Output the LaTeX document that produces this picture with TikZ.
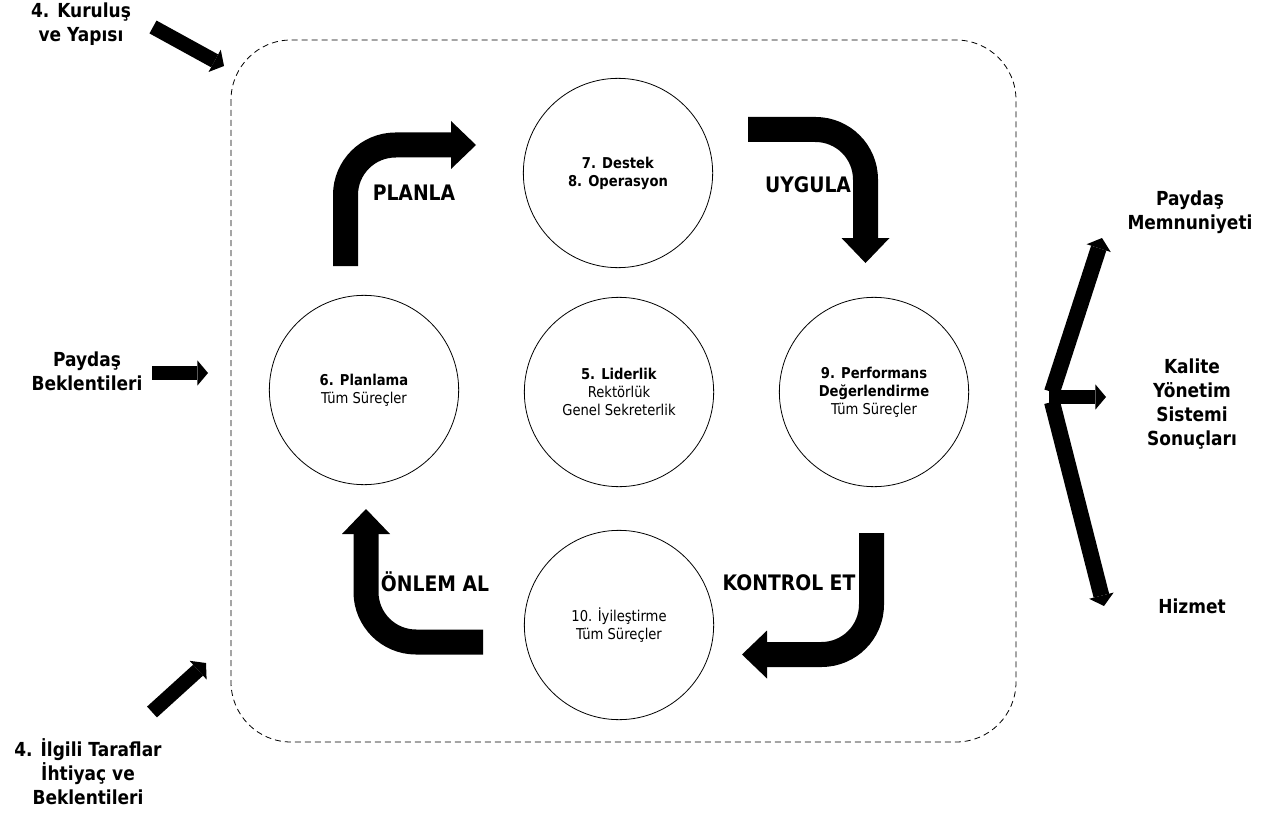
\documentclass[tikz,border=0pt]{standalone}
\usepackage{fontspec}
\setmainfont[FakeStretch=0.88]{DejaVu Sans}
\usetikzlibrary{arrows.meta}

\tikzset{
  stage/.style={draw, circle, line width=0.6pt, minimum size=142pt, inner sep=0pt,
    align=center, font=\fontsize{11.2}{13.5}\selectfont},
  cyclelabel/.style={font=\bfseries\fontsize{16}{18}\selectfont},
  sidelabel/.style={align=center, font=\bfseries\fontsize{14.5}{18}\selectfont},
  bigarrow/.style={line width=18.75pt, rounded corners=37.5pt,
    -{Triangle[length=18.75pt, width=36pt, line width=0pt]}},
  sidearrow/.style={line width=11pt,
    -{Triangle[length=8pt, width=19pt, line width=0pt]}},
  outarrow/.style={line width=12pt,
    -{Triangle[length=8pt, width=19pt, line width=0pt]}}
}

\begin{document}
\begin{tikzpicture}[x=0.75pt, y=-0.75pt]
  \useasboundingbox (0,0) rectangle (1274,820);

  % dashed frame
  \draw[line width=0.6pt, dash pattern=on 4.5pt off 3pt, rounded corners=45pt]
    (231,40) rectangle (1016,742);

  % circles
  \node[stage] (destek) at (618,173) {\textbf{7. Destek}\\\textbf{8. Operasyon}};
  \node[stage] (planlama) at (364,390) {\textbf{6. Planlama}\\Tüm Süreçler};
  \node[stage] (liderlik) at (619,392) {\textbf{5. Liderlik}\\Rektörlük\\Genel Sekreterlik};
  \node[stage] (performans) at (874,392) {\textbf{9. Performans}\\\textbf{Değerlendirme}\\Tüm Süreçler};
  \node[stage] (iyilestirme) at (619,625) {10. İyileştirme\\Tüm Süreçler};

  % cycle arrows
  \coordinate (planS) at (345.5,266);
  \coordinate (planE) at (476,145);
  \coordinate (uygS) at (748,129.5);
  \coordinate (uygE) at (865.5,263);
  \coordinate (konS) at (871.5,533);
  \coordinate (konE) at (742,654.5);
  \coordinate (onlS) at (483,642);
  \coordinate (onlE) at (366,509);
  \draw[bigarrow] (planS) |- (planE);
  \draw[bigarrow] (uygS) -| (uygE);
  \draw[bigarrow] (konS) |- (konE);
  \draw[bigarrow] (onlS) -| (onlE);

  \node[cyclelabel] (planla) at (414,193) {PLANLA};
  \node[cyclelabel] (uygula) at (808,185) {UYGULA};
  \node[cyclelabel] (kontrol) at (789,583) {KONTROL ET};
  \node[cyclelabel] (onlem) at (435,582) {ÖNLEM AL};

  % inputs
  \node[sidelabel] (kurulus) at (81,24) {4. Kuruluş\\ve Yapısı};
  \node[sidelabel] (beklenti) at (87,371) {Paydaş\\Beklentileri};
  \node[sidelabel] (ilgili) at (88,772) {4. İlgili Taraflar\\İhtiyaç ve\\Beklentileri};
  \coordinate (kurS) at (153,27);
  \coordinate (kurE) at (224,66);
  \coordinate (payS) at (152,373);
  \coordinate (payE) at (208,373);
  \coordinate (ilgS) at (152,712);
  \coordinate (ilgE) at (206,663);
  \draw[sidearrow] (kurS) -- (kurE);
  \draw[sidearrow] (payS) -- (payE);
  \draw[sidearrow] (ilgS) -- (ilgE);

  % outputs
  \node[sidelabel] (memnun) at (1190,212) {Paydaş\\Memnuniyeti};
  \node[sidelabel] (kalite) at (1192,404) {Kalite\\Yönetim\\Sistemi\\Sonuçları};
  \node[sidelabel] (hizmet) at (1192,606) {Hizmet};
  \coordinate (brkU) at (1052,392);
  \coordinate (brkM) at (1049,397);
  \coordinate (brkL) at (1052,402);
  \coordinate (memE) at (1102,238);
  \coordinate (kalE) at (1106,397);
  \coordinate (hizE) at (1104,606);
  \draw[outarrow] (brkU) -- (memE);
  \draw[sidearrow] (brkM) -- (kalE);
  \draw[outarrow] (brkL) -- (hizE);
\end{tikzpicture}
\end{document}
